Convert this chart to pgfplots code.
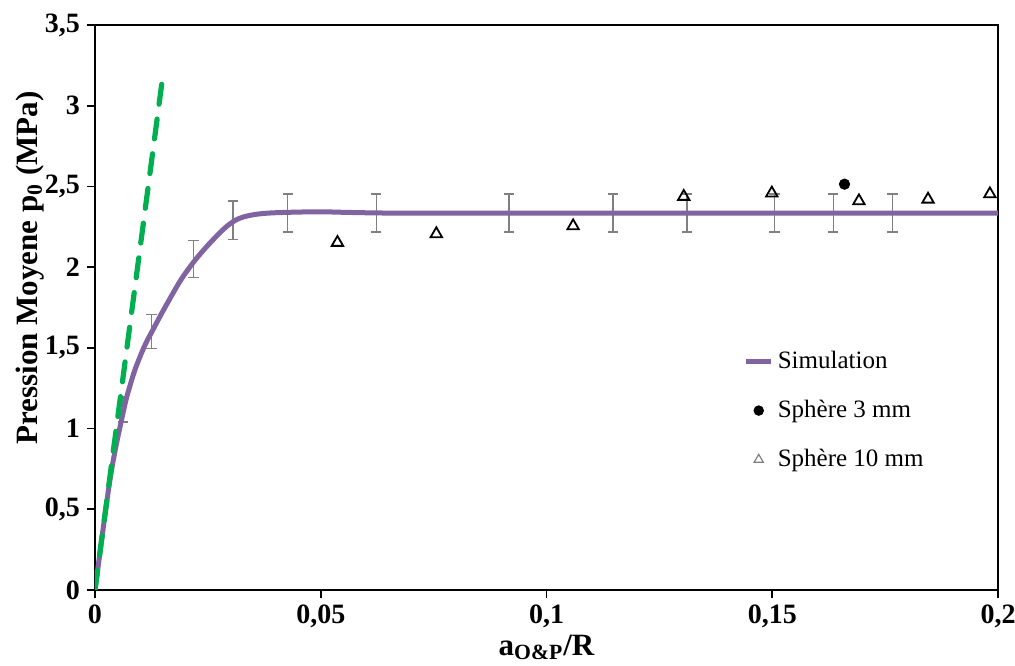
\documentclass[border=0pt]{standalone}
\usepackage{pgfplots}
\pgfplotsset{compat=1.18}
\usepackage{fontspec}
\setmainfont{Liberation Serif}
\definecolor{simpurple}{RGB}{128,100,162}
\definecolor{exgreen}{RGB}{0,176,80}
\pgfplotsset{shortline legend/.style={legend image code/.code={\draw[##1] (2.3pt,0pt) -- (14.8pt,0pt);}}}
\begin{document}
\begin{tikzpicture}
\begin{axis}[
  scale only axis,
  width=451.5pt, height=282.5pt,
  xmin=0, xmax=0.2, ymin=0, ymax=3.5,
  xtick={0,0.05,0.1,0.15,0.2},
  xticklabels={0,{0,05},{0,1},{0,15},{0,2}},
  ytick={0,0.5,1,1.5,2,2.5,3,3.5},
  yticklabels={0,{0,5},1,{1,5},2,{2,5},3,{3,5}},
  scaled x ticks=false, scaled y ticks=false,
  tick align=outside,
  xtick pos=bottom, ytick pos=left,
  major tick length=4pt,
  tick style={black, line width=0.8pt},
  axis line style={black, line width=1.2pt},
  ticklabel style={font=\fontsize{14}{17}\selectfont\bfseries},
  xlabel={a\textsubscript{O\&P}/R},
  ylabel={Pression Moyene p\textsubscript{0} (MPa)},
  label style={font=\fontsize{15.5}{18}\selectfont\bfseries},
  xlabel style={at={(axis description cs:0.5,0)}, anchor=north, yshift=-19pt},
  ylabel style={at={(axis description cs:-0.072,0.57)}, anchor=center},
  legend style={draw=none, fill=none, at={(axis description cs:0.718,0.43)}, anchor=north west,
    font=\fontsize{12.5}{15}\selectfont, row sep=10.3pt, inner sep=0pt},
  legend cell align=left,
]
% error bars
\addplot[draw=none, mark=none, forget plot,
  error bars/.cd, y dir=both, y explicit,
  error bar style={draw=gray, solid, line width=0.7pt},
  error mark options={draw=gray, solid, line width=0.7pt, mark size=2.6pt, rotate=90}]
  table[x=x, y=y, y error=e] {
x y e
0.0062 1.12 0.08
0.0125 1.60 0.105
0.0218 2.05 0.116
0.0306 2.29 0.12
0.0427 2.335 0.118
0.0623 2.335 0.118
0.0917 2.335 0.118
0.1147 2.335 0.118
0.1311 2.335 0.118
0.1505 2.335 0.118
0.1635 2.335 0.118
0.1766 2.335 0.118
};
% simulation
\addplot[simpurple, line width=2.5pt, smooth, tension=0.6, forget plot] coordinates {
(0,0) (0.001,0.21) (0.002,0.42) (0.0033,0.68) (0.0045,0.87) (0.0057,1.03)
(0.0068,1.17) (0.0078,1.27) (0.0088,1.36) (0.0099,1.44) (0.0112,1.525)
(0.0127,1.605) (0.0145,1.70) (0.0165,1.80) (0.019,1.92) (0.0218,2.03)
(0.0245,2.12) (0.0272,2.20) (0.0295,2.26) (0.0318,2.30) (0.0342,2.32)
(0.0368,2.331) (0.040,2.337) (0.045,2.341) (0.05,2.343)
(0.056,2.339) (0.065,2.335) (0.08,2.334) (0.1,2.334) (0.15,2.334) (0.2,2.334)};
% green dashed
\addplot[exgreen, line width=2.6pt, dash pattern=on 10pt off 7.5pt, line cap=round, forget plot]
  coordinates {(0,0) (0.0149,3.16)};
% sphere 3 mm
\addplot[only marks, mark=*, mark size=2.6pt, black, forget plot] coordinates {(0.166,2.514)};
% sphere 10 mm
\addplot[only marks, mark=triangle, mark size=3.3pt, black, line width=0.9pt, forget plot] coordinates {
(0.0537,2.152) (0.0756,2.206) (0.1059,2.255) (0.1304,2.437) (0.1499,2.458)
(0.1692,2.41) (0.1845,2.42) (0.1982,2.453)};
% legend
\addlegendimage{simpurple, line width=2.5pt, shortline legend}
\addlegendentry{Simulation}
\addlegendimage{only marks, mark=*, mark size=2.4pt, black}
\addlegendentry{Sphère 3 mm}
\addlegendimage{only marks, mark=triangle, mark size=2.6pt, gray, line width=0.6pt}
\addlegendentry{Sphère 10 mm}
\end{axis}
\pgfresetboundingbox
\path[use as bounding box] ([xshift=-47.5pt,yshift=-38pt]current axis.south west) rectangle ([xshift=8.5pt,yshift=12.5pt]current axis.north east);
\end{tikzpicture}
\end{document}
